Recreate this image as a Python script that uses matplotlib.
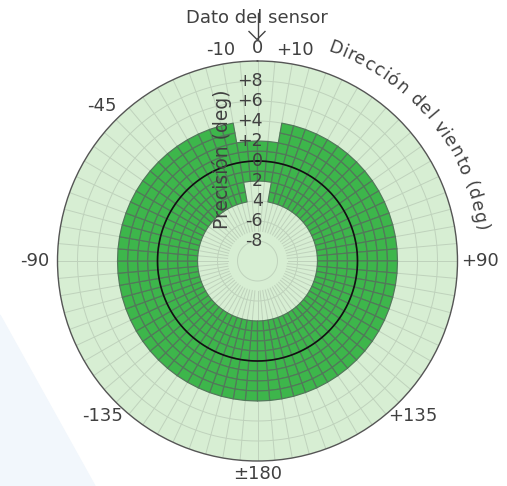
import numpy as np
import matplotlib
matplotlib.use('Agg')
import matplotlib.pyplot as plt
import matplotlib.transforms as mtransforms
from matplotlib.colors import ListedColormap
from matplotlib.lines import Line2D
from matplotlib.patches import Polygon
from matplotlib.textpath import TextToPath
from matplotlib.font_manager import FontProperties

# radial scale: precision (deg), angular scale: wind direction (deg)
r_min, r_max = -10, 10
band = (-4, 4)            # precision band away from the sensor heading
notch = (-2, 2)           # tighter band near the sensor heading
notch_half = 10           # half width of the tight zone (deg)
cell_dr, cell_dth = 1, 5  # size of the mesh cells

radial_ticks = [8, 6, 4, 2, 0, -2, -4, -6, -8]
radial_labels = ['+8', '+6', '+4', '+2', '0', '2', '4', '-6', '-8']
angle_ticks = [-10, 0, 10, -45, -90, 90, -135, 135, 180]
angle_labels = ['-10', '0', '+10', '-45', '-90', '+90', '-135', '+135', '±180']

title = 'Dato del sensor'
theta_title = 'Dirección del viento (deg)'
r_title = 'Precisión (deg)'

W, H = 507, 486
txt = '#404040'
fs = 12.5
plt.rcParams['font.family'] = ['DejaVu Sans']

fig = plt.figure(figsize=(W / 100, H / 100), dpi=100)
cx, cy, R = 257.5, 261, 200
ax = fig.add_axes([(cx - R) / W, (H - cy - R) / H, 2 * R / W, 2 * R / H],
                  projection='polar')
ax.set_theta_zero_location('N')
ax.set_theta_direction(-1)
ax.set_rlim(r_min, r_max)
ax.set_xticks([])
ax.set_yticks([])
ax.grid(False)
ax.set_facecolor('#d7eed3')
ax.spines['polar'].set_color('#555555')
ax.spines['polar'].set_linewidth(1.0)

# faint background grid
th_full = np.linspace(0, 2 * np.pi, 721)
for rr in np.arange(-8, r_max, 2):
    ax.plot(th_full, np.full_like(th_full, rr), color='#bfd2bc', lw=0.7, zorder=1)
for a in np.arange(0, 360, cell_dth):
    ax.plot([np.deg2rad(a)] * 2, [-7, r_max], color='#bfd2bc', lw=0.7, zorder=1)

# green precision band
th_edges = np.arange(-180, 180 + cell_dth, cell_dth)
r_edges = np.arange(band[0], band[1] + cell_dr, cell_dr)
th_c = (th_edges[:-1] + th_edges[1:]) / 2
r_c = (r_edges[:-1] + r_edges[1:]) / 2
TH, RC = np.meshgrid(th_c, r_c)
out = (np.abs(TH) < notch_half) & ((RC < notch[0]) | (RC > notch[1]))
C = np.ma.masked_where(out, np.ones_like(TH))
ax.pcolor(np.deg2rad(th_edges), r_edges, C, cmap=ListedColormap(['#3db64b']),
          edgecolors='#52785a', linewidth=0.85, zorder=2)

ax.plot(th_full, np.zeros_like(th_full), color='#111111', lw=1.2, zorder=3)

# radial tick labels along the 0 deg line
rtrans = mtransforms.offset_copy(ax.transData, fig=fig, x=5.5, y=0, units='dots')
for v, lab in zip(radial_ticks, radial_labels):
    ax.text(0, v, lab, transform=rtrans, ha='right', va='center',
            fontsize=fs, color=txt, zorder=5)

# angular tick labels
for a, lab in zip(angle_ticks, angle_labels):
    rr = 11.3 + 0.95 * abs(np.sin(np.deg2rad(a)))
    ax.text(np.deg2rad(a), rr, lab, ha='center', va='center',
            fontsize=fs + 0.5, color=txt, clip_on=False)

# curved axis title
prop = FontProperties(family='DejaVu Sans', size=fs)
ttp = TextToPath()
def tw(s):
    return ttp.get_text_width_height_descent(s, prop, ismath=False)[0]
widths = [tw(c) if c != ' ' else tw('a a') - tw('aa') for c in theta_title]
cum = np.concatenate([[0], np.cumsum(widths)])
mids = (cum[:-1] + cum[1:]) / 2
a_first, a_last = 20, 81.5
for c, m in zip(theta_title, mids):
    ang = a_first + (a_last - a_first) * (m - mids[0]) / (mids[-1] - mids[0])
    ax.text(np.deg2rad(ang), 12.1, c, rotation=-ang, rotation_mode='anchor',
            ha='center', va='baseline', fontsize=fs, color=txt, clip_on=False)

fig.text(222 / W, 1 - 159 / H, r_title, rotation=90, ha='center', va='center',
         fontsize=fs + 1, color=txt)
fig.text(257 / W, 1 - 18 / H, title, ha='center', va='center',
         fontsize=fs + 0.5, color=txt)

# sensor mark
def px(x, y):
    return x / W, 1 - y / H
vx, vy = zip(px(249, 31.5), px(257, 39.5), px(265, 31.5))
fig.add_artist(Line2D(vx, vy, color='#444444', lw=1.0))
sx, sy = zip(px(258, 13), px(258, 39.5))
fig.add_artist(Line2D(sx, sy, color='#444444', lw=1.0))

# faint backdrop shape
fig.patches.append(Polygon([px(0, 315), px(95, 486), px(0, 486)], closed=True,
                           transform=fig.transFigure, color='#f2f7fc', zorder=-1))

fig.savefig('out.png', dpi=100)
